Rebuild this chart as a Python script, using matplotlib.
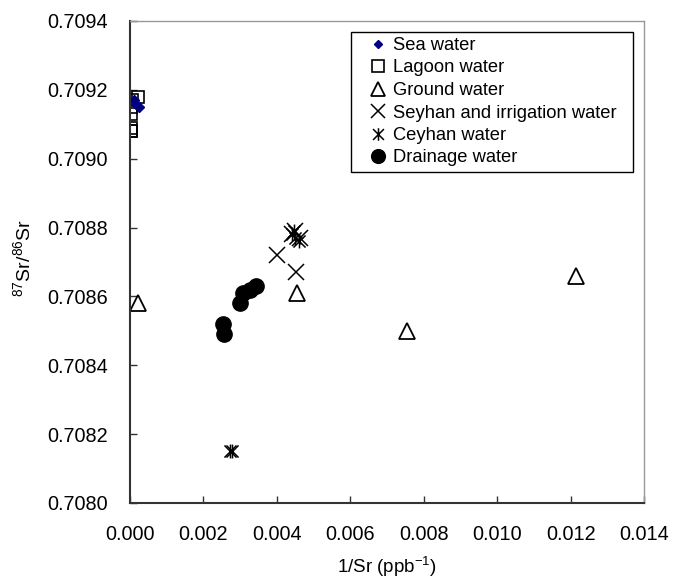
import matplotlib.pyplot as plt
from matplotlib.patches import Rectangle
from matplotlib.path import Path

plt.rcParams.update(
    {
        "font.family": ["Liberation Sans", "DejaVu Sans"],
        "mathtext.fontset": "custom",
        "mathtext.rm": "Liberation Sans",
    }
)

# data
sea_x = [0.00010, 0.00015, 0.00025]
sea_y = [0.70917, 0.70916, 0.70915]

lagoon_x = [0.00022, 0.00005, 0.00004, 0.00003, 0.00002, 0.00004, 0.00003]
lagoon_y = [0.70918, 0.70917, 0.70915, 0.70913, 0.70909, 0.70908, 0.70908]

ground_x = [0.00022, 0.00454, 0.00754, 0.01216]
ground_y = [0.70858, 0.70861, 0.70850, 0.70866]

seyhan_x = [0.00400, 0.00452, 0.00440, 0.00462, 0.00450]
seyhan_y = [0.70872, 0.70867, 0.70878, 0.70877, 0.70879]

ceyhan_x = [0.00440, 0.00450, 0.00460, 0.00446, 0.00273, 0.00277]
ceyhan_y = [0.70878, 0.70877, 0.70876, 0.70879, 0.70815, 0.70815]

drain_x = [0.00252, 0.00256, 0.00299, 0.00308, 0.00327, 0.00343]
drain_y = [0.70852, 0.70849, 0.70858, 0.70861, 0.70862, 0.70863]

xticks = [0.000, 0.002, 0.004, 0.006, 0.008, 0.010, 0.012, 0.014]
yticks = [0.7080, 0.7082, 0.7084, 0.7086, 0.7088, 0.7090, 0.7092, 0.7094]

# X with a vertical bar through it (Excel style asterisk)
star = Path(
    [(-1, -1), (1, 1), (-1, 1), (1, -1), (0, -1.15), (0, 1.15)],
    [Path.MOVETO, Path.LINETO, Path.MOVETO, Path.LINETO, Path.MOVETO, Path.LINETO],
)

fig = plt.figure(figsize=(6.75, 5.79), dpi=100)
ax = fig.add_axes([130 / 675, 1 - 503 / 579, 514 / 675, 482 / 579])

ax.plot(ground_x, ground_y, "^", ms=11.5, mfc="none", mec="black", mew=1.3,
        ls="none", label="Ground water")
ax.plot(seyhan_x, seyhan_y, "x", ms=11, mec="black", mew=1.1,
        ls="none", label="Seyhan and irrigation water")
ax.plot(ceyhan_x, ceyhan_y, marker=star, ms=10, mec="black", mew=1.1,
        ls="none", label="Ceyhan water")
ax.plot(drain_x, drain_y, "o", ms=11, color="black",
        ls="none", label="Drainage water")
ax.plot(lagoon_x, lagoon_y, "s", ms=9, mfc="none", mec="black", mew=1.2,
        ls="none", label="Lagoon water")
ax.plot(sea_x, sea_y, "D", ms=5, color="#000080",
        ls="none", label="Sea water")

ax.set_xlim(0, 0.014)
ax.set_ylim(0.7080, 0.7094)
ax.set_xticks(xticks)
ax.set_xticklabels([f"{v:.3f}" for v in xticks])
ax.set_yticks(yticks)
ax.set_yticklabels([f"{v:.4f}" for v in yticks])
ax.tick_params(direction="in", length=5, width=1, labelsize=14.3,
               colors="#333333", labelcolor="black")
ax.tick_params(axis="x", pad=16)
ax.tick_params(axis="y", pad=16)

for side in ["left", "bottom"]:
    ax.spines[side].set_color("#333333")
    ax.spines[side].set_linewidth(1.5)
for side in ["top", "right"]:
    ax.spines[side].set_color("#999999")
    ax.spines[side].set_linewidth(1.0)

ax.set_xlabel(r"1/Sr (ppb$^{\mathregular{-1}}$)", fontsize=13.5)
ax.set_ylabel(r"$^{\mathregular{87}}$Sr/$^{\mathregular{86}}$Sr", fontsize=14)
ax.xaxis.set_label_coords(0.5, -0.106)
ax.yaxis.set_label_coords(-0.185, 0.508)

# legend box, drawn separately so the padding matches
ax.add_patch(Rectangle(((351 - 130) / 514, (503 - 172) / 482),
                       282 / 514, 140 / 482, transform=ax.transAxes,
                       facecolor="white", edgecolor="black", lw=1.0, zorder=4))

handles, labels = ax.get_legend_handles_labels()
order = ["Sea water", "Lagoon water", "Ground water",
         "Seyhan and irrigation water", "Ceyhan water", "Drainage water"]
hmap = dict(zip(labels, handles))
leg = ax.legend([hmap[k] for k in order], order, loc="upper left",
                bbox_to_anchor=((370 - 130) / 514, (503 - 37) / 482),
                fontsize=13.2, frameon=False, handlelength=0.9,
                handletextpad=0.35, borderpad=0.0, borderaxespad=0.0,
                labelspacing=0.3, markerscale=0.9)
leg.set_zorder(5)

fig.savefig("out.png", dpi=100)
